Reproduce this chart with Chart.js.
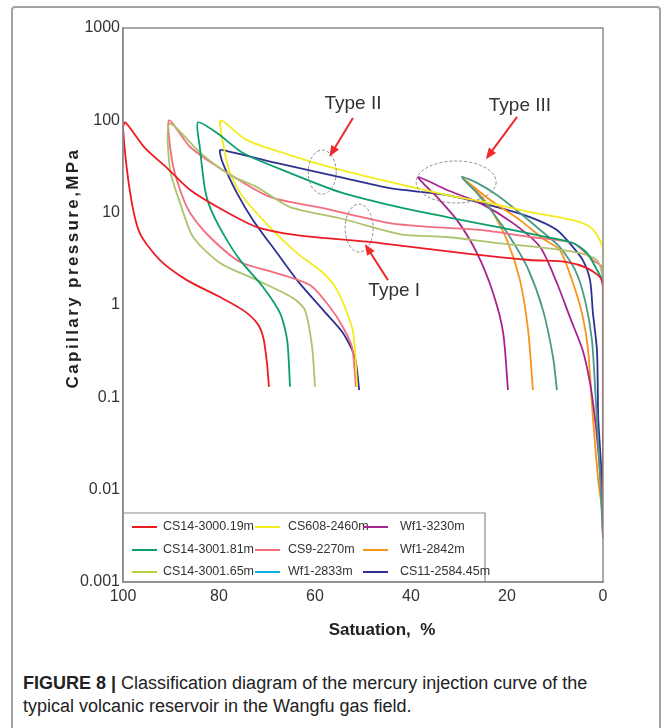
<!DOCTYPE html>
<html>
<head>
<meta charset="utf-8">
<script src="https://cdn.jsdelivr.net/npm/chart.js@4.4.1/dist/chart.umd.min.js"></script>
<style>
  body { margin: 0; background: #fff; width: 664px; height: 728px; overflow: hidden; position: relative;
         font-family: "Liberation Sans", Arial, sans-serif; }
  #frame { position: absolute; left: 11px; top: 6px; width: 650px; height: 760px; box-sizing: border-box;
           border: 2px solid #a3a3a3; border-radius: 4px; }
  #wrap { position: absolute; left: 0; top: 0; width: 664px; height: 660px; }
  #caption { position: absolute; left: 23px; top: 672px; font-size: 18px; line-height: 23px; color: #222; white-space: nowrap; }
</style>
</head>
<body>
<div id="frame"></div>
<div id="wrap"><canvas id="chart"></canvas></div>
<div id="caption"><b>FIGURE 8 |</b> Classification diagram of the mercury injection curve of the<br>typical volcanic reservoir in the Wangfu gas field.</div>

<script>
// ===== Data (saturation %, capillary pressure MPa) =====
const seriesLabels = ["CS14-3000.19m", "CS14-3001.81m", "CS14-3001.65m",
                      "CS608-2460m", "CS9-2270m", "Wf1-2833m",
                      "Wf1-3230m", "Wf1-2842m", "CS11-2584.45m"];

const satCS14_300019 = [0, 0, 0.6, 3.3, 7.5, 15.2, 29.2, 46.5, 63.8, 72.1, 79.2, 86, 90.8, 95.4, 99.5, 100, 98.5, 96.5, 92.3, 86.7, 79.8, 75, 72.1, 70.8, 70, 69.6];
const pcCS14_300019  = [0.003, 1.56, 2.0, 2.51, 2.92, 3.07, 3.65, 4.69, 5.72, 6.98, 10.7, 17.6, 30.4, 50, 95, 84, 16.3, 6.0, 3.06, 1.86, 1.22, 0.88, 0.64, 0.45, 0.235, 0.13];

const satCS14_300181 = [0, 0, 0.2, 1.25, 3.3, 6.25, 11.7, 22.1, 32.5, 44.4, 54.8, 65.2, 75, 80.4, 84.4, 84.0, 82.9, 81.9, 79.2, 75.6, 70.8, 67.3, 65.8, 65.2];
const pcCS14_300181  = [0.003, 1.4, 1.86, 2.39, 3.65, 4.69, 5.45, 7.0, 8.96, 12.1, 16.7, 26.9, 44.3, 72.8, 95, 51.4, 17.6, 11.5, 6.0, 3.06, 1.56, 0.82, 0.417, 0.13];

const satCS14_300165 = [0, 0, 0.2, 1.25, 4.8, 11.7, 22.1, 32.5, 40.8, 44.4, 54.8, 65.2, 72.1, 77.7, 84, 90.3, 90.2, 88.1, 85.4, 79.8, 72.1, 64.6, 62.1, 60.6, 60];
const pcCS14_300165  = [0.003, 1.7, 2.22, 3.06, 3.65, 4.14, 4.69, 5.45, 5.7, 6.2, 8.7, 11.5, 18.9, 25.5, 45, 92, 29, 12.7, 5.45, 2.85, 1.86, 1.19, 0.88, 0.35, 0.13];

const satCS608_2460 = [0, 0, 1.0, 2.7, 6.25, 15.2, 23.5, 32.5, 44.4, 56.9, 65.2, 74.2, 79.6, 79.4, 77.7, 75, 69.4, 63.75, 58.3, 55.4, 52.3, 51.7, 51.25];
const pcCS608_2460  = [0.003, 3.94, 5.45, 7.0, 8.3, 10.15, 12.7, 15.5, 21.5, 31.2, 42, 61, 100, 66, 26.9, 14.8, 6.98, 3.65, 2.22, 1.45, 0.577, 0.35, 0.13];

const satCS9_2270 = [0, 0, 0.2, 2.1, 6.25, 15.2, 25.6, 36.0, 44.4, 58.3, 69.4, 79.2, 86.0, 90.4, 89.8, 88.1, 86.0, 81.9, 75.6, 68.75, 61.0, 56.9, 54.2, 52.3, 51.7, 51.5];
const pcCS9_2270  = [0.003, 1.9, 2.58, 3.06, 4.69, 5.45, 6.5, 7.0, 7.7, 11.2, 14.8, 29, 51.4, 100, 37.2, 17.6, 9.9, 5.45, 2.92, 2.27, 1.64, 0.95, 0.577, 0.35, 0.183, 0.13];

const satWf1_2833 = [0, 0.8, 1.5, 2.3, 3.75, 5.8, 9.0, 13.1, 17.3, 22.1, 26.25, 29.4, 26.25, 22.9, 19.4, 15.8, 12.5, 10.4, 9.6];
const pcWf1_2833  = [0.003, 0.021, 0.093, 0.417, 1.13, 2.39, 4.24, 6.5, 9.9, 15.5, 21, 24.3, 16.3, 9.9, 5.45, 2.58, 0.88, 0.27, 0.12];

const satWf1_3230 = [0, 0.2, 1.0, 1.7, 2.7, 4.2, 6.9, 9.6, 13.1, 18.75, 25.6, 32.5, 38.5, 34.6, 30.4, 26.25, 22.9, 20.8, 19.8];
const pcWf1_3230  = [0.003, 0.0077, 0.027, 0.061, 0.143, 0.32, 0.74, 1.73, 4.24, 7.7, 12.7, 17.6, 24.3, 14.8, 8.3, 3.65, 1.35, 0.5, 0.12];

const satWf1_2842 = [0, 0.2, 1.0, 2.1, 3.1, 4.2, 6.25, 9.0, 12.1, 17.3, 23.5, 29.2, 25.6, 23.5, 20, 17.3, 15.6, 14.6];
const pcWf1_2842  = [0.003, 0.006, 0.0127, 0.061, 0.32, 0.74, 1.73, 3.94, 5.05, 8.3, 13.7, 23.5, 15.5, 11.2, 5.05, 1.86, 0.53, 0.12];

const satCS11_258445 = [0, 0.2, 0.6, 1.0, 1.25, 2.1, 2.7, 4.2, 6.25, 9.6, 15.2, 22.1, 32.5, 44.4, 54.8, 67.9, 78.3, 79.8, 79.2, 76.25, 72.9, 67.9, 63.75, 58.3, 54.2, 51.7, 50.8];
const pcCS11_258445  = [0.003, 0.0117, 0.027, 0.061, 0.32, 0.82, 1.86, 3.06, 4.24, 6.5, 8.96, 11.5, 15.5, 18.4, 24.3, 34.4, 46.5, 47.6, 34.4, 16.3, 8.3, 3.65, 1.86, 0.88, 0.5, 0.273, 0.12];

const xTicks = [100, 80, 60, 40, 20, 0];
const yTickLabels = ["0.001", "0.01", "0.1", "1", "10", "100", "1000"];

// type annotations, in data units (saturation, pressure)
const typeLabels = ["Type I", "Type II", "Type III"];
const typeTextAt = [[43.5, 1.42], [52.1, 150], [17.3, 143]];
const typeArrowFrom = [[44.8, 1.86], [52.1, 106], [17.9, 109]];
const typeArrowTo = [[49.6, 4.57], [57.0, 40.4], [24.4, 38]];
const typeEllipseAt = [[50.8, 6.8], [58.5, 27.5], [30.6, 21.5]];

// ===== Styles =====
const lineColors = ["#ec1c24", "#0b9f6b", "#adc46f", "#f3ec1e", "#f26d7d", "#4b9a85", "#a8238e", "#f7941d", "#2e3192"];
const legendColors = ["#ec1c24", "#0b9f6b", "#b5d13f", "#f3ec1e", "#f26d7d", "#12b0e2", "#a8238e", "#f7941d", "#2e3192"];
const ellipseRadii = [[14, 24], [14, 22], [40, 21]];

const satSeries = [satCS14_300019, satCS14_300181, satCS14_300165, satCS608_2460, satCS9_2270, satWf1_2833, satWf1_3230, satWf1_2842, satCS11_258445];
const pcSeries = [pcCS14_300019, pcCS14_300181, pcCS14_300165, pcCS608_2460, pcCS9_2270, pcWf1_2833, pcWf1_3230, pcWf1_2842, pcCS11_258445];

const FONT = '"Liberation Sans", Arial, sans-serif';

function toPoints(sat, pc) {
  return sat.map((s, i) => ({ x: s, y: pc[i] }));
}

// ===== Decorations: frame, legend, annotations, axis titles =====
const decor = {
  id: "decor",
  afterDatasetsDraw(chart) {
    const { ctx, scales: { x, y } } = chart;
    ctx.save();

    // dashed ellipses
    ctx.setLineDash([3, 2]);
    ctx.lineWidth = 1;
    ctx.strokeStyle = "#8a8a8a";
    typeEllipseAt.forEach(([s, p], i) => {
      ctx.beginPath();
      ctx.ellipse(x.getPixelForValue(s), y.getPixelForValue(p), ellipseRadii[i][0], ellipseRadii[i][1], 0, 0, Math.PI * 2);
      ctx.stroke();
    });
    ctx.setLineDash([]);

    // arrows
    ctx.strokeStyle = "#ee2a2a";
    ctx.fillStyle = "#ee2a2a";
    ctx.lineWidth = 2;
    typeArrowFrom.forEach(([s0, p0], i) => {
      const x0 = x.getPixelForValue(s0), y0 = y.getPixelForValue(p0);
      const x1 = x.getPixelForValue(typeArrowTo[i][0]), y1 = y.getPixelForValue(typeArrowTo[i][1]);
      const ang = Math.atan2(y1 - y0, x1 - x0);
      const head = 11;
      ctx.beginPath();
      ctx.moveTo(x0, y0);
      ctx.lineTo(x1 - Math.cos(ang) * head * 0.8, y1 - Math.sin(ang) * head * 0.8);
      ctx.stroke();
      ctx.beginPath();
      ctx.moveTo(x1, y1);
      ctx.lineTo(x1 - Math.cos(ang) * head + Math.sin(ang) * 4.5, y1 - Math.sin(ang) * head - Math.cos(ang) * 4.5);
      ctx.lineTo(x1 - Math.cos(ang) * head - Math.sin(ang) * 4.5, y1 - Math.sin(ang) * head + Math.cos(ang) * 4.5);
      ctx.closePath();
      ctx.fill();
    });

    // labels
    ctx.fillStyle = "#333";
    ctx.font = "19px " + FONT;
    ctx.textAlign = "center";
    ctx.textBaseline = "middle";
    typeLabels.forEach((t, i) => {
      ctx.fillText(t, x.getPixelForValue(typeTextAt[i][0]), y.getPixelForValue(typeTextAt[i][1]));
    });
    ctx.restore();
  },
  afterDraw(chart) {
    const { ctx, chartArea: a } = chart;
    ctx.save();

    // plot frame
    ctx.strokeStyle = "#8c8c8c";
    ctx.lineWidth = 1.5;
    ctx.strokeRect(a.left, a.top, a.right - a.left, a.bottom - a.top);

    // legend box in the lower left corner
    const lx = a.left, lw = 362, lh = 69, ly = a.bottom - lh;
    ctx.fillStyle = "#fff";
    ctx.fillRect(lx + 1, ly, lw, lh - 1);
    ctx.strokeStyle = "#8c8c8c";
    ctx.lineWidth = 1.2;
    ctx.beginPath();
    ctx.moveTo(lx, ly);
    ctx.lineTo(lx + lw, ly);
    ctx.lineTo(lx + lw, a.bottom);
    ctx.stroke();

    const colX = [9, 132, 240], textOff = [31, 33, 37], rowY = [14, 37, 59];
    ctx.font = "12.5px " + FONT;
    ctx.textAlign = "left";
    ctx.textBaseline = "middle";
    chart.data.datasets.forEach((ds, i) => {
      const c = Math.floor(i / 3), r = i % 3;
      const px = lx + colX[c], py = ly + rowY[r];
      ctx.strokeStyle = legendColors[i];
      ctx.lineWidth = 2;
      ctx.beginPath();
      ctx.moveTo(px, py);
      ctx.lineTo(px + 25, py);
      ctx.stroke();
      ctx.fillStyle = "#333";
      ctx.fillText(ds.label, px + textOff[c], py);
    });

    // axis titles
    ctx.fillStyle = "#222";
    ctx.font = "bold 17px " + FONT;
    ctx.textAlign = "center";
    ctx.textBaseline = "middle";
    ctx.fillText("Satuation,  %", 382, 630);
    ctx.translate(73, 268);
    ctx.rotate(-Math.PI / 2);
    ctx.letterSpacing = "2.4px";
    ctx.fillText("Capillary pressure,MPa", 0, 0);
    ctx.restore();
  }
};

// ===== Chart =====
new Chart(document.getElementById("chart"), {
  type: "scatter",
  data: {
    datasets: seriesLabels.map((label, i) => ({
      label,
      data: toPoints(satSeries[i], pcSeries[i]),
      showLine: true,
      borderColor: lineColors[i],
      backgroundColor: lineColors[i],
      borderWidth: 1.8,
      pointRadius: 0,
      tension: 0.25,
      fill: false
    }))
  },
  options: {
    responsive: true,
    maintainAspectRatio: false,
    animation: false,
    layout: { padding: { left: 0, right: 61, top: 28, bottom: 0 } },
    plugins: { legend: { display: false }, tooltip: { enabled: false } },
    scales: {
      x: {
        type: "linear",
        reverse: true,
        min: 0,
        max: 100,
        afterBuildTicks: s => { s.ticks = xTicks.map(v => ({ value: v })); },
        afterFit: s => { s.height = 78; },
        ticks: { color: "#333", font: { size: 16, family: FONT }, padding: 5, maxRotation: 0 },
        grid: { display: false, drawTicks: false },
        border: { color: "#8c8c8c", width: 1.5 }
      },
      y: {
        type: "logarithmic",
        min: 0.001,
        max: 1000,
        afterBuildTicks: s => { s.ticks = yTickLabels.map(t => ({ value: parseFloat(t) })); },
        afterFit: s => { s.width = 123; },
        ticks: {
          color: "#333",
          font: { size: 16, family: FONT },
          padding: 3,
          callback: v => yTickLabels.find(t => parseFloat(t) === v) || ""
        },
        grid: { display: false, drawTicks: false },
        border: { color: "#8c8c8c", width: 1.5 }
      }
    }
  },
  plugins: [decor]
});
</script>
</body>
</html>
